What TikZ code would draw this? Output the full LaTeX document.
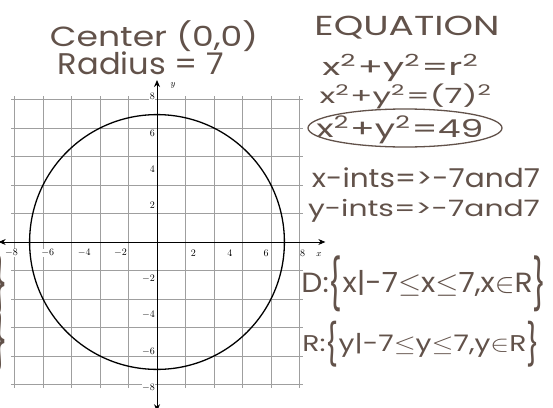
\documentclass[tikz,border=0pt]{standalone}
\usepackage{fontspec}
\usepackage{graphicx}
\usetikzlibrary{arrows.meta,shapes.geometric}
\newfontfamily\hand{Poppins}
\definecolor{pencil}{RGB}{98,82,74}
\newcommand{\hw}[3]{\resizebox*{#1pt}{#2pt}{\hand #3}}
\newcommand{\sq}{\textsuperscript{2}}
\newcommand{\tallbr}[1]{\raisebox{-0.35em}{\scalebox{1}[1.8]{#1}}}

\begin{document}
\begin{tikzpicture}[x=1pt,y=-1pt,
  hand/.style={pencil,inner sep=0pt},
  lbl/.style={font=\fontsize{10}{10}\selectfont,inner sep=0.5pt,fill=white}]
  \useasboundingbox (0,0) rectangle (553,407);
  \fill[white] (0,0) rectangle (553,407);
  % graph paper with the circle
  \begin{scope}[shift={(157,242)},x=18.2pt,y=18.2pt]
    \draw[gray!75,line width=0.6pt] (-8,-8) grid (8,8);
    \coordinate (xl) at (-8.7,0);
    \coordinate (xr) at (9.25,0);
    \coordinate (yb) at (0,-9.3);
    \coordinate (yt) at (0,8.9);
    \draw[line width=0.9pt,{Stealth[length=7pt,width=6pt]}-{Stealth[length=7pt,width=6pt]}] (xl) -- (xr);
    \draw[line width=0.9pt,{Stealth[length=7pt,width=6pt]}-{Stealth[length=7pt,width=6pt]}] (yb) -- (yt);
    \draw[line width=1.3pt] (0,0) circle (7);
    \foreach \t in {-8,-6,-4,-2,2,4,6,8}{
      \node[lbl] (xt\t) at (\t,-0.6) {$\t$};
      \node[lbl,anchor=east] (yt\t) at (-0.08,\t) {$\t$};
    }
    \node[font=\small,inner sep=1pt] (xname) at (8.9,-0.68) {$x$};
    \node[font=\small,inner sep=1pt] (yname) at (0.88,8.62) {$y$};
  \end{scope}
  % handwritten notes
  \node[hand] (center) at (154,36) {\hw{208}{31}{Center (0,0)}};
  \node[hand] (radius) at (141,63) {\hw{166}{23}{Radius = 7}};
  \node[hand] (eqn) at (407,28) {\hw{185}{23}{EQUATION}};
  \node[hand] (eq1) at (401,68) {\hw{157}{27}{x\sq+y\sq=r\sq}};
  \node[hand] (eq2) at (406,96) {\hw{173}{25}{x\sq+y\sq=(7)\sq}};
  \node[hand] (eq3) at (400,130) {\hw{167}{28}{x\sq+y\sq=49}};
  \node[draw=pencil,line width=1.3pt,ellipse,minimum width=194pt,minimum height=38pt] (ring) at (405,128) {};
  \node[hand] (xint) at (426,178) {\hw{228}{20}{x-ints=>-7and7}};
  \node[hand] (yint) at (424,211) {\hw{232}{23}{y-ints=>-7and7}};
  \node[hand] (dom) at (424,284) {\hw{245}{56}{D:\tallbr{\{}x|-7$\leq$x$\leq$7,x$\in$R\tallbr{\}}}};
  \node[hand] (ran) at (421,344) {\hw{237}{46}{R:\tallbr{\{}y|-7$\leq$y$\leq$7,y$\in$R\tallbr{\}}}};
  \node[hand,anchor=east] (bra1) at (9,285) {\scalebox{1}[1.4]{\hand\fontsize{40}{40}\selectfont\}}};
  \node[hand,anchor=east] (bra2) at (9,342) {\scalebox{1}[1.4]{\hand\fontsize{40}{40}\selectfont\}}};
\end{tikzpicture}
\end{document}
